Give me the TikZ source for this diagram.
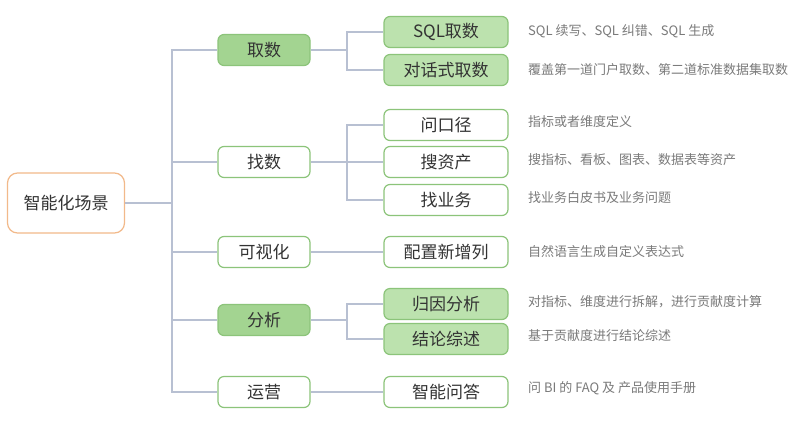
\documentclass[tikz,border=0pt]{standalone}
\usepackage{fontspec}
\setmainfont{Noto Sans CJK SC}
\definecolor{lnk}{HTML}{B8C0D2}
\definecolor{gborder}{HTML}{8CC47A}
\definecolor{gfillA}{HTML}{A3D491}
\definecolor{gfillB}{HTML}{BCE2AE}
\definecolor{rootb}{HTML}{F2B98A}
\definecolor{txt}{HTML}{333333}
\definecolor{desc}{HTML}{7A7A7A}
\tikzset{
  box/.style={draw=gborder, line width=1.2pt, rounded corners=6pt, text=txt,
    font=\fontsize{17}{20}\selectfont, inner sep=0pt, anchor=center},
  lone/.style={box, minimum width=92pt, minimum height=31pt, fill=white},
  lonef/.style={lone, fill=gfillA},
  ltwo/.style={box, minimum width=124pt, minimum height=31pt, fill=white},
  ltwof/.style={ltwo, fill=gfillB},
  rootbox/.style={box, draw=rootb, rounded corners=10pt, minimum width=117pt, minimum height=60pt, fill=white},
  dsc/.style={anchor=west, text=desc, font=\fontsize{13}{15}\selectfont, inner sep=0pt},
  link/.style={draw=lnk, line width=1.3pt}
}
\begin{document}
\begin{tikzpicture}[x=1pt, y=-1pt]
\useasboundingbox (0,0) rectangle (797,421);
\fill[white] (0,0) rectangle (797,421);

\node[rootbox] (root) at (66,203) {智能化场景};

\node[lonef] (qs) at (264,50) {取数};
\node[lone] (zs) at (264,162) {找数};
\node[lone] (ksh) at (264,252) {可视化};
\node[lonef] (fx) at (264,320) {分析};
\node[lone] (yy) at (264,392) {运营};

\node[ltwof] (sql) at (446,32) {SQL取数};
\node[ltwof] (dhs) at (446,70) {对话式取数};
\node[ltwo] (wkj) at (446,125) {问口径};
\node[ltwo] (szc) at (446,162) {搜资产};
\node[ltwo] (zyw) at (446,200) {找业务};
\node[ltwo] (pz) at (446,252) {配置新增列};
\node[ltwof] (gy) at (446,304) {归因分析};
\node[ltwof] (jl) at (446,339) {结论综述};
\node[ltwo] (zn) at (446,392) {智能问答};

\node[dsc] (d1) at (528,31) {SQL 续写、SQL 纠错、SQL 生成};
\node[dsc] (d2) at (528,70) {覆盖第一道门户取数、第二道标准数据集取数};
\node[dsc] (d3) at (528,122) {指标或者维度定义};
\node[dsc] (d4) at (528,160) {搜指标、看板、图表、数据表等资产};
\node[dsc] (d5) at (528,198) {找业务白皮书及业务问题};
\node[dsc] (d6) at (528,252) {自然语言生成自定义表达式};
\node[dsc] (d7) at (528,302) {对指标、维度进行拆解，进行贡献度计算};
\node[dsc] (d8) at (528,336) {基于贡献度进行结论综述};
\node[dsc] (d9) at (528,388) {问 BI 的 FAQ 及 产品使用手册};

\coordinate (t) at (172,203);
\coordinate (ja) at (347,50);
\coordinate (jb) at (347,162);
\coordinate (jd) at (347,320);

\draw[link] (root.east) -- (t);
\foreach \n in {qs,zs,ksh,fx,yy} { \draw[link] (t) |- (\n.west); }
\draw[link] (qs.east) -- (ja);
\draw[link] (ja) |- (sql.west);
\draw[link] (ja) |- (dhs.west);
\draw[link] (zs.east) -- (jb);
\draw[link] (jb) |- (wkj.west);
\draw[link] (jb) |- (szc.west);
\draw[link] (jb) |- (zyw.west);
\draw[link] (ksh.east) -- (pz.west);
\draw[link] (fx.east) -- (jd);
\draw[link] (jd) |- (gy.west);
\draw[link] (jd) |- (jl.west);
\draw[link] (yy.east) -- (zn.west);
\end{tikzpicture}
\end{document}
